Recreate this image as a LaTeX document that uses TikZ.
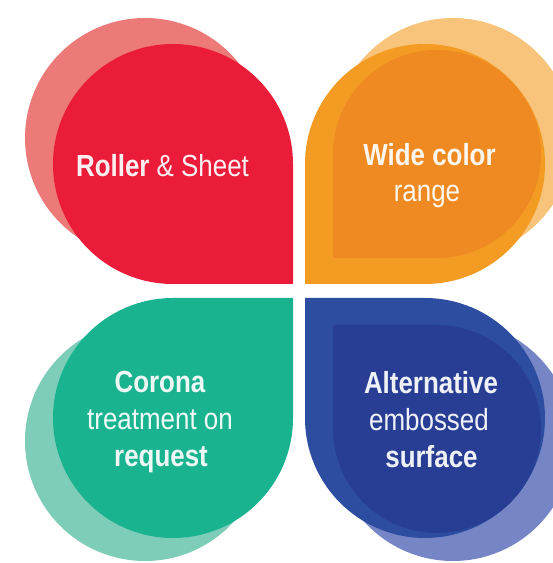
\documentclass[tikz,border=0pt]{standalone}
\usepackage{fontspec}
\setmainfont{Liberation Sans}[FakeStretch=0.85]
\definecolor{redmain}{RGB}{234,28,58}
\definecolor{redshadow}{RGB}{236,122,120}
\definecolor{orangemain}{RGB}{243,155,34}
\definecolor{orangeinner}{RGB}{238,138,33}
\definecolor{orangeshadow}{RGB}{248,195,122}
\definecolor{greenmain}{RGB}{26,179,143}
\definecolor{greenshadow}{RGB}{126,205,185}
\definecolor{bluemain}{RGB}{45,77,161}
\definecolor{blueinner}{RGB}{40,62,148}
\definecolor{blueshadow}{RGB}{118,133,197}
% teardrop: centre x, centre y, radius, start angle, fill colour
\newcommand\mypetal[5]{\fill[#5] (#1,#2) ++(#4:#3) arc[start angle=#4, delta angle=270, radius=#3] -- ++(#4:#3) -- cycle;}
\begin{document}
\begin{tikzpicture}[x=1pt,y=1pt,
  petaltext/.style={text=white, text opacity=0.93, font=\fontsize{30.5}{37}\selectfont, anchor=base, inner sep=0pt}]
\useasboundingbox (0,0) rectangle (553,563);
\fill[white] (0,0) rectangle (553,563);
\clip (0,0) rectangle (553,563);
% red (top left)
\mypetal{145}{425}{120}{0}{redshadow}
\mypetal{173}{399}{120}{0}{redmain}
% orange (top right)
\mypetal{453}{425}{120}{270}{orangeshadow}
\mypetal{425}{399}{120}{270}{orangemain}
\mypetal{437}{409}{104}{270}{orangeinner}
% green (bottom left)
\mypetal{145}{122}{120}{90}{greenshadow}
\mypetal{173}{145}{120}{90}{greenmain}
% blue (bottom right)
\mypetal{453}{122}{120}{180}{blueshadow}
\mypetal{425}{145}{120}{180}{bluemain}
\mypetal{437}{134}{104}{180}{blueinner}
% texts
\node[petaltext] (r1) at (162.5,386) {\textbf{Roller} \& Sheet};
\node[petaltext] (o1) at (429.5,397) {\textbf{Wide color}};
\node[petaltext] (o2) at (427,361) {range};
\node[petaltext] (g1) at (160,170) {\textbf{Corona}};
\node[petaltext] (g2) at (160,133) {treatment on};
\node[petaltext] (g3) at (161,96) {\textbf{request}};
\node[petaltext] (b1) at (431,169) {\textbf{Alternative}};
\node[petaltext] (b2) at (429,132) {embossed};
\node[petaltext] (b3) at (431.5,95) {\textbf{surface}};
\end{tikzpicture}
\end{document}
